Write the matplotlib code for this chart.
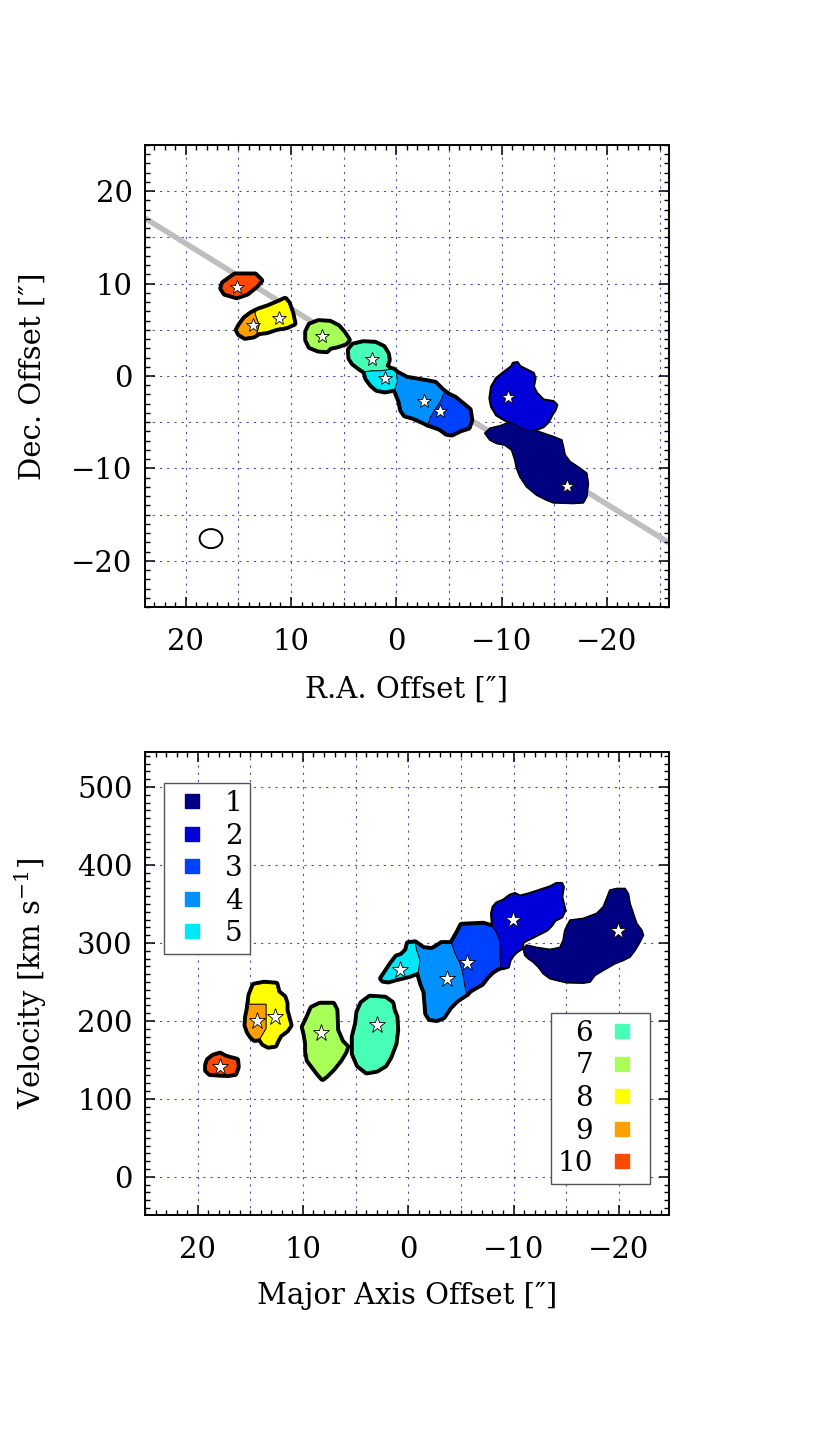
import numpy as np
import matplotlib
matplotlib.use('Agg')
import matplotlib.pyplot as plt
from matplotlib.patches import Polygon, Ellipse
from matplotlib.lines import Line2D
from matplotlib.ticker import MultipleLocator

plt.rcParams['font.family'] = 'DejaVu Serif'
plt.rcParams['mathtext.fontset'] = 'dejavuserif'

# cloud numbers and colours
labels = ['1', '2', '3', '4', '5', '6', '7', '8', '9', '10']
colors = ['#000080', '#0000d8', '#0040ff', '#0090ff', '#00e8f8',
          '#48ffb8', '#a8ff58', '#ffff00', '#ffa000', '#ff4800']
outer_lw = [1.4, 2.4, 5.0, 5.0, 5.0, 5.0, 5.0, 5.0, 5.0, 5.0]

# cloud outlines on the sky (R.A. offset, Dec. offset) in arcsec
sky_shapes = [
    [(-8.42, -6.2), (-8.9, -5.66), (-9.85, -5.41), (-10.64, -5.05), (-11.43, -5.12), (-12.06, -5.55),
     (-13.01, -5.84), (-13.96, -6.2), (-14.91, -6.57), (-15.71, -6.93), (-15.86, -7.65), (-16.02, -8.55),
     (-16.5, -9.27), (-17.45, -9.99), (-18.08, -10.53), (-18.23, -11.61), (-18.08, -13.06), (-17.76, -13.71),
     (-16.81, -13.78), (-14.91, -13.71), (-14.28, -13.42), (-13.33, -12.88), (-12.38, -11.98), (-11.75, -10.9),
     (-11.43, -9.99), (-11.27, -9.09), (-10.96, -8.01), (-10.32, -7.47), (-9.53, -7.29), (-8.9, -6.93)],
    [(-8.9, -2.41), (-9.06, -1.16), (-9.53, -0.25), (-10.32, 0.47), (-10.96, 1.01), (-11.11, 1.37),
     (-11.49, 1.44), (-11.75, 1.01), (-13.01, 0.29), (-13.17, -0.25), (-13.01, -1.16), (-13.33, -1.87),
     (-13.96, -2.6), (-14.91, -2.78), (-15.23, -3.14), (-15.07, -3.68), (-14.76, -4.22), (-14.44, -4.95),
     (-13.96, -5.48), (-13.33, -5.77), (-12.38, -5.84), (-11.75, -5.55), (-11.11, -5.12), (-10.32, -4.76),
     (-9.53, -4.22), (-9.06, -3.32)],
    [(-4.55, -1.75), (-4.94, -2.06), (-5.57, -2.41), (-6.36, -3.14), (-6.93, -3.68), (-7.07, -4.76),
     (-6.84, -5.55), (-6.05, -5.84), (-5.26, -6.28), (-4.79, -6.2), (-4.15, -5.66), (-3.0, -5.2),
     (-3.2, -4.5), (-3.7, -3.6), (-4.3, -2.5)],
    [(0.0, 0.35), (-0.99, -0.25), (-1.94, -0.43), (-2.89, -0.62), (-3.68, -0.79), (-4.31, -1.52),
     (-4.55, -1.75), (-4.3, -2.5), (-3.7, -3.6), (-3.2, -4.5), (-3.0, -5.2), (-2.56, -4.95),
     (-1.61, -4.47), (-0.83, -4.22), (-0.51, -3.68), (-0.35, -2.78), (-0.04, -1.87), (0.15, -1.4), (-0.1, -0.6)],
    [(2.97, 0.47), (2.81, -0.25), (2.34, -0.97), (1.86, -1.44), (1.07, -1.62), (0.15, -1.4), (-0.1, -0.6),
     (0.0, 0.35), (0.29, 0.65), (0.6, 0.72), (1.55, 0.57), (2.34, 0.57)],
    [(4.46, 2.81), (4.08, 3.35), (3.13, 3.6), (2.02, 3.54), (1.23, 3.1), (0.85, 2.38), (0.76, 1.73),
     (0.98, 1.08), (0.6, 0.72), (1.55, 0.57), (2.34, 0.57), (2.97, 0.47), (3.45, 0.83), (4.08, 1.37), (4.4, 1.92)],
    [(8.51, 4.8), (8.2, 5.52), (7.41, 5.88), (6.3, 5.81), (5.51, 5.34), (4.97, 4.62), (4.56, 3.9),
     (4.87, 3.54), (5.66, 3.25), (6.3, 3.1), (6.61, 2.74), (7.41, 2.81), (8.2, 3.17), (8.51, 3.9)],
    [(13.42, 6.95), (13.1, 7.14), (12.16, 7.5), (11.04, 8.04), (10.57, 8.3), (10.26, 7.87), (9.93, 6.79),
     (9.72, 5.7), (10.41, 5.34), (11.36, 5.16), (12.31, 4.8), (13.1, 4.69), (13.26, 4.55), (13.04, 5.52), (13.42, 6.71)],
    [(14.84, 5.52), (14.37, 6.24), (13.73, 6.78), (13.42, 6.95), (13.42, 6.71), (13.04, 5.52), (13.26, 4.55),
     (13.58, 4.33), (14.37, 4.19), (14.9, 4.55), (15.1, 4.98)],
    [(16.43, 10.03), (15.32, 10.93), (13.42, 10.93), (12.88, 10.31), (13.42, 9.66), (14.2, 8.95),
     (15.16, 8.58), (16.27, 8.95), (16.58, 9.49)],
]
sky_star_x = [-16.17, -10.64, -4.15, -2.66, 1.1, 2.34, 7.08, 11.11, 13.58, 15.16]
sky_star_y = [-11.87, -2.24, -3.75, -2.71, -0.25, 1.8, 4.33, 6.31, 5.52, 9.6]

# cloud outlines in position-velocity space (major axis offset, km/s)
pv_shapes = [
    [(-10.92, 292.8), (-11.24, 297.1), (-12.19, 294.1), (-13.46, 291.5), (-14.41, 294.1), (-14.72, 303.5),
     (-14.88, 316.3), (-15.36, 329.1), (-16.62, 331.3), (-17.89, 337.7), (-18.52, 346.2), (-18.84, 356.9),
     (-19.15, 367.6), (-19.79, 369.7), (-20.58, 369.7), (-20.89, 363.3), (-21.05, 350.5), (-21.37, 337.7),
     (-21.69, 324.9), (-22.17, 316.3), (-22.32, 309.9), (-22.0, 301.3), (-21.53, 290.6), (-21.05, 282.1),
     (-20.42, 277.8), (-19.63, 273.6), (-18.52, 265), (-17.73, 258.6), (-17.26, 250), (-16.62, 248.7),
     (-15.04, 249.2), (-14.09, 252.2), (-13.46, 254.4), (-12.82, 260.8), (-12.35, 269.2), (-11.87, 275.6),
     (-11.4, 280), (-11.08, 284.2)],
    [(-8.02, 320.5), (-7.92, 337.7), (-8.07, 346.2), (-8.4, 351.3), (-9.02, 354.7), (-9.66, 361.2),
     (-10.13, 363.3), (-10.61, 359.9), (-11.56, 363.3), (-12.51, 367.6), (-13.46, 371.8), (-14.09, 376.2),
     (-14.57, 376.2), (-14.72, 371.8), (-14.57, 359), (-14.72, 350.5), (-14.88, 341.9), (-14.57, 333.3),
     (-13.93, 329.1), (-13.62, 322.7), (-13.14, 316.3), (-12.19, 309.9), (-11.56, 305.6), (-10.92, 301.3),
     (-10.77, 292.8), (-10.29, 288.5), (-9.97, 284.2), (-9.66, 277.8), (-9.5, 269.2), (-9.02, 267.2),
     (-8.77, 269.2), (-8.71, 282.1), (-8.71, 294.9), (-8.61, 305.6), (-8.33, 314.1)],
    [(-4.12, 299.2), (-4.75, 314.1), (-5.07, 322.7), (-7.12, 324), (-8.02, 320.5), (-8.33, 314.1),
     (-8.61, 305.6), (-8.71, 294.9), (-8.71, 282.1), (-8.77, 269.2), (-8.4, 267.2), (-7.92, 262.8),
     (-7.45, 256.4), (-6.97, 247.9), (-6.5, 244.5), (-5.86, 239.4), (-5.55, 235.1), (-5.38, 243.6),
     (-5.17, 260.8), (-4.91, 273.6), (-4.44, 286.4)],
    [(-0.64, 300), (-1.42, 292.8), (-2.22, 291.5), (-2.7, 294.9), (-3.17, 299.2), (-4.12, 299.2),
     (-4.44, 286.4), (-4.91, 273.6), (-5.17, 260.8), (-5.38, 243.6), (-5.55, 235.1), (-4.6, 226.5),
     (-3.96, 217.9), (-3.32, 205.1), (-2.7, 201.8), (-2.06, 203.1), (-1.75, 209.5), (-1.68, 222.3),
     (-1.59, 237.2), (-1.27, 247.9), (-0.95, 262.8), (-1.11, 277.8), (-0.8, 290.6)],
    [(2.53, 254.4), (2.21, 260.8), (1.58, 273.6), (1.1, 282.1), (0.63, 284.2), (0.15, 290.6), (0.0, 299.2),
     (-0.64, 300), (-0.8, 290.6), (-1.11, 277.8), (-0.95, 262.8), (-0.16, 258.6), (0.47, 256.4),
     (1.1, 254.4), (1.9, 251.3), (2.37, 252.2)],
    [(4.78, 211.2), (4.4, 222.7), (3.64, 230.4), (2.21, 229.1), (1.55, 222.7), (1.42, 213.7), (1.17, 205.1),
     (1.1, 188.1), (1.26, 171), (1.74, 153.8), (2.21, 143.2), (3.0, 136.8), (3.95, 134.6), (4.75, 143.2),
     (5.22, 158.2), (5.22, 179.5), (4.9, 196.7)],
    [(9.15, 216.3), (8.39, 221.4), (7.15, 221.4), (6.87, 213.7), (6.8, 188.1), (6.32, 173.1), (5.85, 166.7),
     (6.01, 160.3), (6.49, 149.6), (7.12, 139), (7.75, 130.4), (8.13, 126.2), (8.55, 132.6), (9.02, 141),
     (9.5, 149.6), (9.65, 160.3), (9.65, 171), (9.81, 183.8), (9.97, 192.3), (9.65, 200.9)],
    [(15.13, 221.4), (15.03, 233), (14.65, 245.8), (13.7, 248.3), (12.56, 247.1), (12.37, 236.8),
     (11.8, 230.4), (11.61, 222.7), (11.61, 213.7), (11.23, 194.5), (11.55, 188.1), (12.18, 181.7),
     (12.44, 175.3), (12.66, 168.8), (13.3, 167.6), (13.77, 171), (14.08, 177.4), (13.51, 190.3),
     (13.51, 211.5), (13.51, 221.4)],
    [(15.13, 221.4), (13.51, 221.4), (13.51, 211.5), (13.51, 190.3), (14.08, 177.4), (14.56, 176.2),
     (14.87, 179.5), (15.19, 185.9), (15.41, 194.5), (15.35, 205.1), (15.22, 213.7)],
    [(19.15, 143.2), (18.99, 149.6), (18.52, 154.7), (17.88, 157.3), (17.41, 153.8), (16.93, 151.8),
     (16.3, 149.6), (16.24, 141.0), (16.46, 132.6), (17.09, 131.3), (17.88, 131.7), (18.83, 132.6), (19.15, 136.8)],
]
pv_star_x = [-19.94, -9.97, -5.55, -3.7, 0.79, 2.94, 8.29, 12.66, 14.34, 17.88]
pv_star_v = [315, 329.1, 274.4, 254.4, 265, 194.5, 184.6, 205.1, 200, 140.3]

# beam and major axis
beam_x, beam_y, beam_w, beam_h = 17.6, -17.6, 2.16, 2.06
pa_deg = 54.8
axis_offset = 0.23

grid_col = '#3030a0'
fs = 21


def style_axes(ax):
    ax.tick_params(which='both', direction='in', top=True, right=True)
    ax.tick_params(which='major', length=7, width=1.1, labelsize=fs)
    ax.tick_params(which='minor', length=3.5, width=1.0)
    ax.tick_params(axis='x', which='major', pad=15)
    ax.tick_params(axis='y', which='major', pad=9)
    for s in ax.spines.values():
        s.set_linewidth(1.4)


def draw_grid(ax, xs, ys):
    for gx in xs:
        ax.axvline(gx, color=grid_col, lw=0.8, ls=(0, (2, 4.5)), alpha=0.85, zorder=0.5)
    for gy in ys:
        ax.axhline(gy, color=grid_col, lw=0.8, ls=(0, (2, 4.5)), alpha=0.85, zorder=0.5)


def draw_clouds(ax, shapes, sx, sy, msize):
    # thick black outline first, then the coloured fills with thin edges
    for shape, lw in zip(shapes, outer_lw):
        ax.add_patch(Polygon(shape, closed=True, fc='black', ec='black', lw=lw,
                             joinstyle='round', zorder=2))
    for shape, c in zip(shapes, colors):
        ax.add_patch(Polygon(shape, closed=True, fc=c, ec='black', lw=0.6,
                             joinstyle='round', zorder=3))
    ax.plot(sx, sy, ls='none', marker='*', ms=msize, mfc='white', mec='black',
            mew=0.6, zorder=4)


fig = plt.figure(figsize=(8.3, 14.34), dpi=100)

# ---- top: sky positions
ax1 = fig.add_axes([0.1747, 0.5767, 0.6313, 0.3222])
draw_grid(ax1, np.arange(-25, 26, 5), np.arange(-25, 26, 5))
line_x = np.array([40.0, -40.0])
line_y = line_x / np.tan(np.radians(pa_deg)) + axis_offset
ax1.plot(line_x, line_y, color='#bebebe', lw=4.0, solid_capstyle='butt', zorder=1)
draw_clouds(ax1, sky_shapes, sky_star_x, sky_star_y, 10.5)
ax1.add_patch(Ellipse((beam_x, beam_y), beam_w, beam_h, fill=False, ec='black', lw=1.4, zorder=4))
ax1.set_xlim(23.87, -25.9)
ax1.set_ylim(-25, 25)
ax1.xaxis.set_major_locator(MultipleLocator(10))
ax1.xaxis.set_minor_locator(MultipleLocator(1))
ax1.yaxis.set_major_locator(MultipleLocator(10))
ax1.yaxis.set_minor_locator(MultipleLocator(1))
style_axes(ax1)
ax1.set_xlabel('R.A. Offset [\u2033]', fontsize=fs)
ax1.set_ylabel('Dec. Offset [\u2033]', fontsize=fs)
ax1.xaxis.set_label_coords(0.5, -0.149)
ax1.yaxis.set_label_coords(-0.187, 0.5)

# ---- bottom: position-velocity
ax2 = fig.add_axes([0.1747, 0.1527, 0.6313, 0.3229])
draw_grid(ax2, np.arange(-25, 26, 5), np.arange(0, 501, 100))
draw_clouds(ax2, pv_shapes, pv_star_x, pv_star_v, 12.5)
ax2.set_xlim(25.0, -24.76)
ax2.set_ylim(-49, 545)
ax2.xaxis.set_major_locator(MultipleLocator(10))
ax2.xaxis.set_minor_locator(MultipleLocator(1))
ax2.yaxis.set_major_locator(MultipleLocator(100))
ax2.yaxis.set_minor_locator(MultipleLocator(10))
style_axes(ax2)
ax2.set_xlabel('Major Axis Offset [\u2033]', fontsize=fs)
ax2.set_ylabel('Velocity [km s$^{-1}$]', fontsize=fs)
ax2.xaxis.set_label_coords(0.5, -0.145)
ax2.yaxis.set_label_coords(-0.184, 0.5)

handles = [Line2D([], [], marker='s', ls='none', color=c, mec=c, ms=10) for c in colors]
leg_kw = dict(fontsize=20, frameon=True, fancybox=False, framealpha=1, edgecolor='#555555',
              borderaxespad=0, handlelength=1.5, labelspacing=0.2, borderpad=0.25)
leg1 = ax2.legend(handles[:5], labels[:5], loc='upper left', handletextpad=0.45,
                  bbox_to_anchor=(0.036, 0.933), **leg_kw)
leg1.get_frame().set_linewidth(1.0)
ax2.add_artist(leg1)
leg2 = ax2.legend(handles[5:], labels[5:], loc='lower right', markerfirst=False,
                  handletextpad=0.3, bbox_to_anchor=(0.964, 0.067), **leg_kw)
leg2.get_frame().set_linewidth(1.0)

fig.savefig('out.png', dpi=100)
